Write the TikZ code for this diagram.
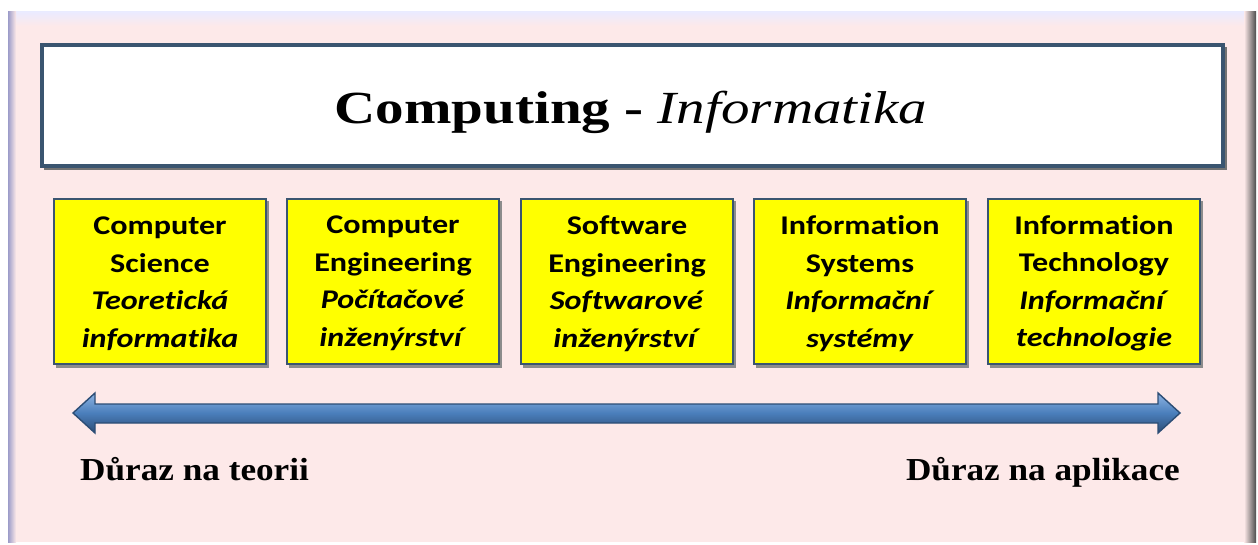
\documentclass[tikz,border=0pt]{standalone}
\usepackage{fontspec}
\setmainfont{Liberation Serif}
\newfontfamily\titlefont[FakeStretch=1.24]{Liberation Serif}
\newfontfamily\endfont[FakeStretch=1.1]{Liberation Serif}
\newfontfamily\boxfont[FakeStretch=1.19,Ligatures=NoCommon]{Carlito}
\usetikzlibrary{shadings}
\definecolor{bgpink}{HTML}{FDE9E9}
\definecolor{frameblue}{HTML}{3A5570}
\definecolor{arrowlight}{HTML}{8EB4E3}
\definecolor{arrowmid}{HTML}{4A7EBB}
\definecolor{arrowdark}{HTML}{2C4D75}
\definecolor{boxyellow}{HTML}{FFFF00}
\tikzset{
  field/.style={draw=frameblue, line width=2.6pt, fill=boxyellow, minimum width=212pt, minimum height=165pt, inner sep=0pt},
  fieldtext/.style={font=\boxfont\bfseries\fontsize{27}{37.5}\selectfont, align=center},
  endlabel/.style={font=\endfont\bfseries\fontsize{32}{36}\selectfont, anchor=base west, inner sep=0pt},
}
\begin{document}
\begin{tikzpicture}[x=1pt,y=-1pt]
\useasboundingbox (0,0) rectangle (1258,545);
% background frame
\fill[white] (0,0) rectangle (1258,545);
\fill[bgpink] (8,12) rectangle (1252,542);
\shade[top color=white!60!blue!20, bottom color=bgpink] (8,12) rectangle (1252,26);
\shade[left color=gray!70!blue!60, right color=bgpink] (8,12) rectangle (16,542);
\shade[left color=bgpink, right color=gray!60!black] (1244,12) rectangle (1256,542);
% title
\fill[black!55] (44,47) rectangle (1227,170);
\node[draw=frameblue, line width=4pt, fill=white, minimum width=1181pt, minimum height=121pt, inner sep=0pt] (title) at (632.5,105.5) {};
\node[font=\titlefont\fontsize{46}{50}\selectfont, anchor=base] (titletext) at (631,124) {\textbf{Computing -} \textit{Informatika}};
% boxes
\foreach \i/\x in {1/160, 2/393, 3/627, 4/860, 5/1094}{
  \fill[black!45] (\x-104,201) rectangle (\x+109,368);
}
\node[field] (cs) at (160,281.5) {};
\node[field] (ce) at (393,281.5) {};
\node[field] (se) at (627,281.5) {};
\node[field] (is) at (860,281.5) {};
\node[field] (it) at (1094,281.5) {};
\node[fieldtext] at ([yshift=-2pt]cs) {Computer\\Science\\\textit{Teoretická}\\\textit{informatika}};
\node[fieldtext] at ([yshift=-2pt]ce) {Computer\\Engineering\\\textit{Počítačové}\\\textit{inženýrství}};
\node[fieldtext] at ([yshift=-2pt]se) {Software\\Engineering\\\textit{Softwarové}\\\textit{inženýrství}};
\node[fieldtext] at ([yshift=-2pt]is) {Information\\Systems\\\textit{Informační}\\\textit{systémy}};
\node[fieldtext] at ([yshift=-2pt]it) {Information\\Technology\\\textit{Informační}\\\textit{technologie}};
% arrow
\coordinate (al) at (73,413);
\coordinate (ar) at (1180,413);
\shade[top color=arrowlight, bottom color=arrowdark, middle color=arrowmid, draw=arrowdark, line width=1.4pt]
  (al) -- (95,393) -- (95,404) -- (1158,404) -- (1158,393) -- (ar) -- (1158,433) -- (1158,423) -- (95,423) -- (95,433) -- cycle;
% end labels
\node[endlabel] (lt) at (80,480) {Důraz na teorii};
\node[endlabel, anchor=base east] (rt) at (1180,480) {Důraz na aplikace};
\end{tikzpicture}
\end{document}
